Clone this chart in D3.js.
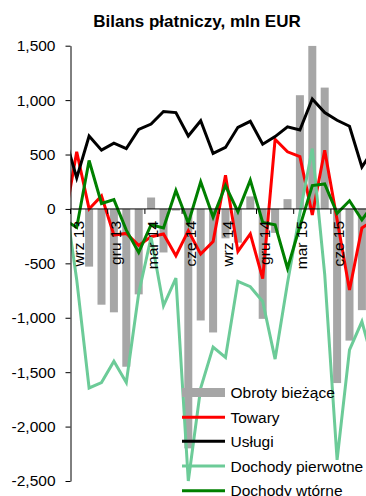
<!DOCTYPE html>
<html>
<head>
<meta charset="utf-8">
<script src="https://cdn.jsdelivr.net/npm/d3@7"></script>
<style>
  html, body { margin: 0; padding: 0; background: #fff; }
  svg { display: block; font-family: "Liberation Sans", Arial, sans-serif; }
</style>
</head>
<body>
<script>
// Months (Aug 2013 .. Sep 2015); first and last fall partly outside the plot
const months = ["sie 13","wrz 13","paź 13","lis 13","gru 13","sty 14","lut 14","mar 14","kwi 14","maj 14","cze 14","lip 14","sie 14","wrz 14","paź 14","lis 14","gru 14","sty 15","lut 15","mar 15","kwi 15","maj 15","cze 15","lip 15","sie 15","wrz 15"];
const tickLabels = ["wrz 13","gru 13","mar 14","cze 14","wrz 14","gru 14","mar 15","cze 15"];

const obrotyBiezace   = [600, -10, -530, -880, -950, -1450, -785, 105, -400, -15, -2200, -1025, -1135, -270, -310, 115, -1010, -220, 90, 1045, 1500, 1115, -1600, -1210, -930, -935];
const towary          = [-125, 526, 0, 120, -240, -225, -335, -255, -230, -430, -200, -415, -300, 310, -390, -230, -640, 640, 525, 480, -55, 540, -100, -745, -175, -100];
const uslugi          = [680, 285, 670, 540, 605, 555, 730, 780, 895, 885, 670, 810, 510, 565, 750, 805, 595, 665, 755, 725, 1010, 885, 815, 760, 385, 560];
const dochodyPierwotne= [150, -650, -1645, -1595, -1400, -1595, -775, -260, -890, -635, -2500, -1645, -1270, -1365, -665, -715, -850, -1380, -680, -40, 555, -600, -2305, -1295, -1035, -1450];
const dochodyWtorne   = [-100, -170, 445, 50, 85, -195, -400, -145, -175, 170, -130, 250, -75, 215, -25, 265, -125, -145, -545, -160, 215, 230, -40, 75, -100, 55];

const yTicks = [1500, 1000, 500, 0, -500, -1000, -1500, -2000, -2500];

const series = [
  { name: "Towary", values: towary, color: "#FF0000", width: 3 },
  { name: "Usługi", values: uslugi, color: "#000000", width: 3 },
  { name: "Dochody pierwotne", values: dochodyPierwotne, color: "#6CCB98", width: 3 },
  { name: "Dochody wtórne", values: dochodyWtorne, color: "#008000", width: 3 }
];

const W = 366, H = 496;
const svg = d3.select("body").append("svg").attr("width", W).attr("height", H);

const x = d3.scalePoint().domain(months).range([64.3, 374.3]);
const y = d3.scaleLinear().domain([-2500, 1500]).range([481, 45.7]);
const axisX = 70.5;

svg.append("defs").append("clipPath").attr("id", "plot")
  .append("rect").attr("x", axisX).attr("y", y(1500)).attr("width", 400).attr("height", y(-2500) - y(1500) + 2);

// Title
svg.append("text").attr("x", 197).attr("y", 27).attr("text-anchor", "middle")
  .attr("font-weight", "bold").attr("font-size", 17).text("Bilans płatniczy, mln EUR");

const plot = svg.append("g").attr("clip-path", "url(#plot)");

// Bars
const bw = 8;
plot.selectAll("rect.bar").data(obrotyBiezace).join("rect").attr("class", "bar")
  .attr("x", (d, i) => x(months[i]) - bw / 2)
  .attr("width", bw)
  .attr("y", d => y(Math.max(0, d)))
  .attr("height", d => Math.abs(y(d) - y(0)))
  .attr("fill", "#A6A6A6");

// Y axis
const fmt = d => d3.format(",")(d).replace("\u2212", "-");
const yAxis = svg.append("g").attr("transform", `translate(${axisX},0)`)
  .call(d3.axisLeft(y).tickValues(yTicks).tickFormat(fmt).tickSize(5).tickSizeOuter(0).tickPadding(10));
yAxis.selectAll("text").attr("font-size", 15.5).attr("fill", "#000").attr("font-family", "Liberation Sans, Arial, sans-serif");
yAxis.selectAll("line,path").attr("stroke", "#000");

// Zero axis line with ticks every 3 months (between categories)
svg.append("line").attr("x1", axisX).attr("x2", W).attr("y1", y(0)).attr("y2", y(0)).attr("stroke", "#000").attr("stroke-width", 1);
const step = x.step();
tickLabels.forEach(lbl => {
  const cx = x(lbl);
  svg.append("line").attr("x1", cx - step / 2).attr("x2", cx - step / 2)
    .attr("y1", y(0)).attr("y2", y(0) + 5).attr("stroke", "#000");
  svg.append("text").attr("transform", `translate(${cx + 7.3},${y(0) + 12}) rotate(-90)`)
    .attr("text-anchor", "end").attr("font-size", 15.5).text(lbl);
});

// Lines
const line = vals => d3.line().x((d, i) => x(months[i])).y(d => y(d))(vals);
series.forEach(s => {
  plot.append("path").attr("d", line(s.values)).attr("fill", "none")
    .attr("stroke", s.color).attr("stroke-width", s.width).attr("stroke-linejoin", "miter");
});

// Legend
const legend = [{ name: "Obroty bieżące", color: "#A6A6A6", width: 9 }].concat(series);
const ly = [392.5, 417.3, 441.3, 466, 490.7];
legend.forEach((s, k) => {
  svg.append("line").attr("x1", 182).attr("x2", 225).attr("y1", ly[k]).attr("y2", ly[k])
    .attr("stroke", s.color).attr("stroke-width", k === 0 ? 9 : 3);
  svg.append("text").attr("x", 230.5).attr("y", ly[k]).attr("dy", "0.36em")
    .attr("font-size", 15.5).text(s.name);
});
</script>
</body>
</html>
